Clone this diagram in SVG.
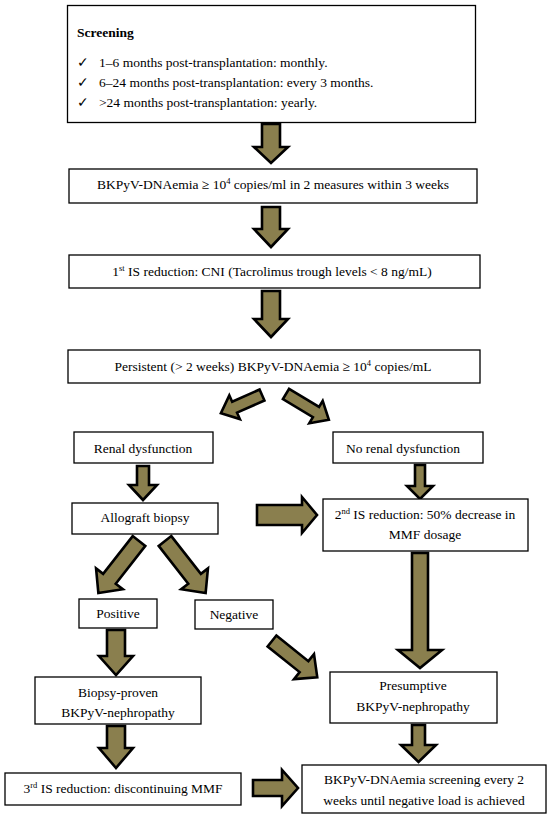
<svg xmlns="http://www.w3.org/2000/svg" width="550" height="819" viewBox="0 0 550 819">
<style>
.box{fill:#fff;stroke:#000;stroke-width:1.3}
.t{font-family:"Liberation Serif","Times New Roman",serif;font-size:13.5px;fill:#000}
.c{text-anchor:middle}
.b{font-weight:bold}
.arr{fill:#8a7f4e;stroke:#000;stroke-width:2.6;stroke-linejoin:miter}
.sup{font-size:8.5px}
</style>
<rect width="550" height="819" fill="#fff"/>

<g id="connectors">
  <!-- vertical main arrows -->
  <polygon class="arr" points="262,124 280,124 280,147 288,147 271,163 254,147 262,147"/>
  <polygon class="arr" points="262,207 280,207 280,229 288,229 271,247 254,229 262,229"/>
  <polygon class="arr" points="262,291 280,291 280,319 288,319 271,337 254,319 262,319"/>
  <!-- split diagonals -->
  <polygon class="arr" points="0,-6 30,-6 30,-13 45,0 30,13 30,6 0,6" transform="translate(262,395) rotate(156)"/>
  <polygon class="arr" points="0,-6 35,-6 35,-13 50,0 35,13 35,6 0,6" transform="translate(286,394) rotate(31)"/>
  <!-- renal -> allograft -->
  <polygon class="arr" points="137,466 149,466 149,485 157,485 143,500 129,485 137,485"/>
  <!-- allograft -> 2nd IS -->
  <polygon class="arr" points="257,505 302,505 302,497 317,515 302,533 302,525 257,525"/>
  <!-- no renal -> 2nd IS -->
  <polygon class="arr" points="415,465 425,465 425,486 433,486 420,499 407,486 415,486"/>
  <!-- 2nd IS -> presumptive -->
  <polygon class="arr" points="412,553 428,553 428,650 442,650 420,668 398,650 412,650"/>
  <!-- presumptive -> final -->
  <polygon class="arr" points="412,725 425,725 425,745 436,745 418.5,762 401,745 412,745"/>
  <!-- allograft diagonals -->
  <polygon class="arr" points="0,-8 48,-8 48,-17 66,0 48,17 48,8 0,8" transform="translate(139,541) rotate(128)"/>
  <polygon class="arr" points="0,-8 48,-8 48,-17 66,0 48,17 48,8 0,8" transform="translate(165,541) rotate(52)"/>
  <!-- positive -> biopsy-proven -->
  <polygon class="arr" points="107,630 125,630 125,656 133,656 116,675 99,656 107,656"/>
  <!-- biopsy-proven -> 3rd IS -->
  <polygon class="arr" points="107,726 125,726 125,748 133,748 116,768 99,748 107,748"/>
  <!-- negative -> presumptive -->
  <polygon class="arr" points="0,-7 41,-7 41,-16 58,0 41,16 41,7 0,7" transform="translate(272,641) rotate(38.7)"/>
  <!-- 3rd IS -> final -->
  <polygon class="arr" points="253,780 282,780 282,770 298,788 282,806 282,796 253,796"/>
</g>

<g id="screening">
  <rect class="box" x="67.5" y="5.5" width="408" height="117"/>
  <text class="t b" x="77" y="37">Screening</text>
  <text class="t" x="77" y="67">✓</text>
  <text class="t" x="99" y="67">1–6 months post-transplantation: monthly.</text>
  <text class="t" x="77" y="87">✓</text>
  <text class="t" x="99" y="87">6–24 months post-transplantation: every 3 months.</text>
  <text class="t" x="77" y="107">✓</text>
  <text class="t" x="99" y="107">&gt;24 months post-transplantation: yearly.</text>
</g>

<g id="dnaemia">
  <rect class="box" x="69" y="169" width="408" height="34"/>
  <text class="t c" x="273" y="189">BKPyV-DNAemia ≥ 10<tspan class="sup" dy="-5">4</tspan><tspan dy="5"> copies/ml in 2 measures within 3 weeks</tspan></text>
</g>

<g id="is1">
  <rect class="box" x="69" y="255" width="411" height="33"/>
  <text class="t c" x="272" y="276">1<tspan class="sup" dy="-5">st</tspan><tspan dy="5"> IS reduction: CNI (Tacrolimus trough levels &lt; 8 ng/mL)</tspan></text>
</g>

<g id="persistent">
  <rect class="box" x="68" y="350" width="412" height="33"/>
  <text class="t c" x="273" y="371">Persistent (&gt; 2 weeks) BKPyV-DNAemia ≥ 10<tspan class="sup" dy="-5">4</tspan><tspan dy="5"> copies/mL</tspan></text>
</g>

<g id="renal">
  <rect class="box" x="74" y="432" width="139" height="31"/>
  <text class="t c" x="143" y="453">Renal dysfunction</text>
</g>

<g id="norenal">
  <rect class="box" x="333" y="432" width="150" height="31"/>
  <text class="t c" x="403" y="453">No renal dysfunction</text>
</g>

<g id="allograft">
  <rect class="box" x="72" y="503" width="146" height="31"/>
  <text class="t c" x="145" y="522">Allograft biopsy</text>
</g>

<g id="is2">
  <rect class="box" x="323" y="499" width="205" height="52"/>
  <text class="t c" x="425" y="519">2<tspan class="sup" dy="-5">nd</tspan><tspan dy="5"> IS reduction: 50% decrease in</tspan></text>
  <text class="t c" x="425" y="539">MMF dosage</text>
</g>

<g id="positive">
  <rect class="box" x="79" y="599" width="78" height="29"/>
  <text class="t c" x="118" y="618">Positive</text>
</g>

<g id="negative">
  <rect class="box" x="195" y="600" width="78" height="29"/>
  <text class="t c" x="234" y="619">Negative</text>
</g>

<g id="biopsyproven">
  <rect class="box" x="35" y="677" width="166" height="47"/>
  <text class="t c" x="118" y="697">Biopsy-proven</text>
  <text class="t c" x="118" y="717">BKPyV-nephropathy</text>
</g>

<g id="presumptive">
  <rect class="box" x="330" y="672" width="167" height="51"/>
  <text class="t c" x="413" y="690">Presumptive</text>
  <text class="t c" x="413" y="711">BKPyV-nephropathy</text>
</g>

<g id="is3">
  <rect class="box" x="5" y="773" width="236" height="32"/>
  <text class="t c" x="123" y="793">3<tspan class="sup" dy="-5">rd</tspan><tspan dy="5"> IS reduction: discontinuing MMF</tspan></text>
</g>

<g id="final">
  <rect class="box" x="302" y="765" width="244" height="48"/>
  <text class="t c" x="424" y="784">BKPyV-DNAemia screening every 2</text>
  <text class="t c" x="424" y="805">weeks until negative load is achieved</text>
</g>
</svg>
